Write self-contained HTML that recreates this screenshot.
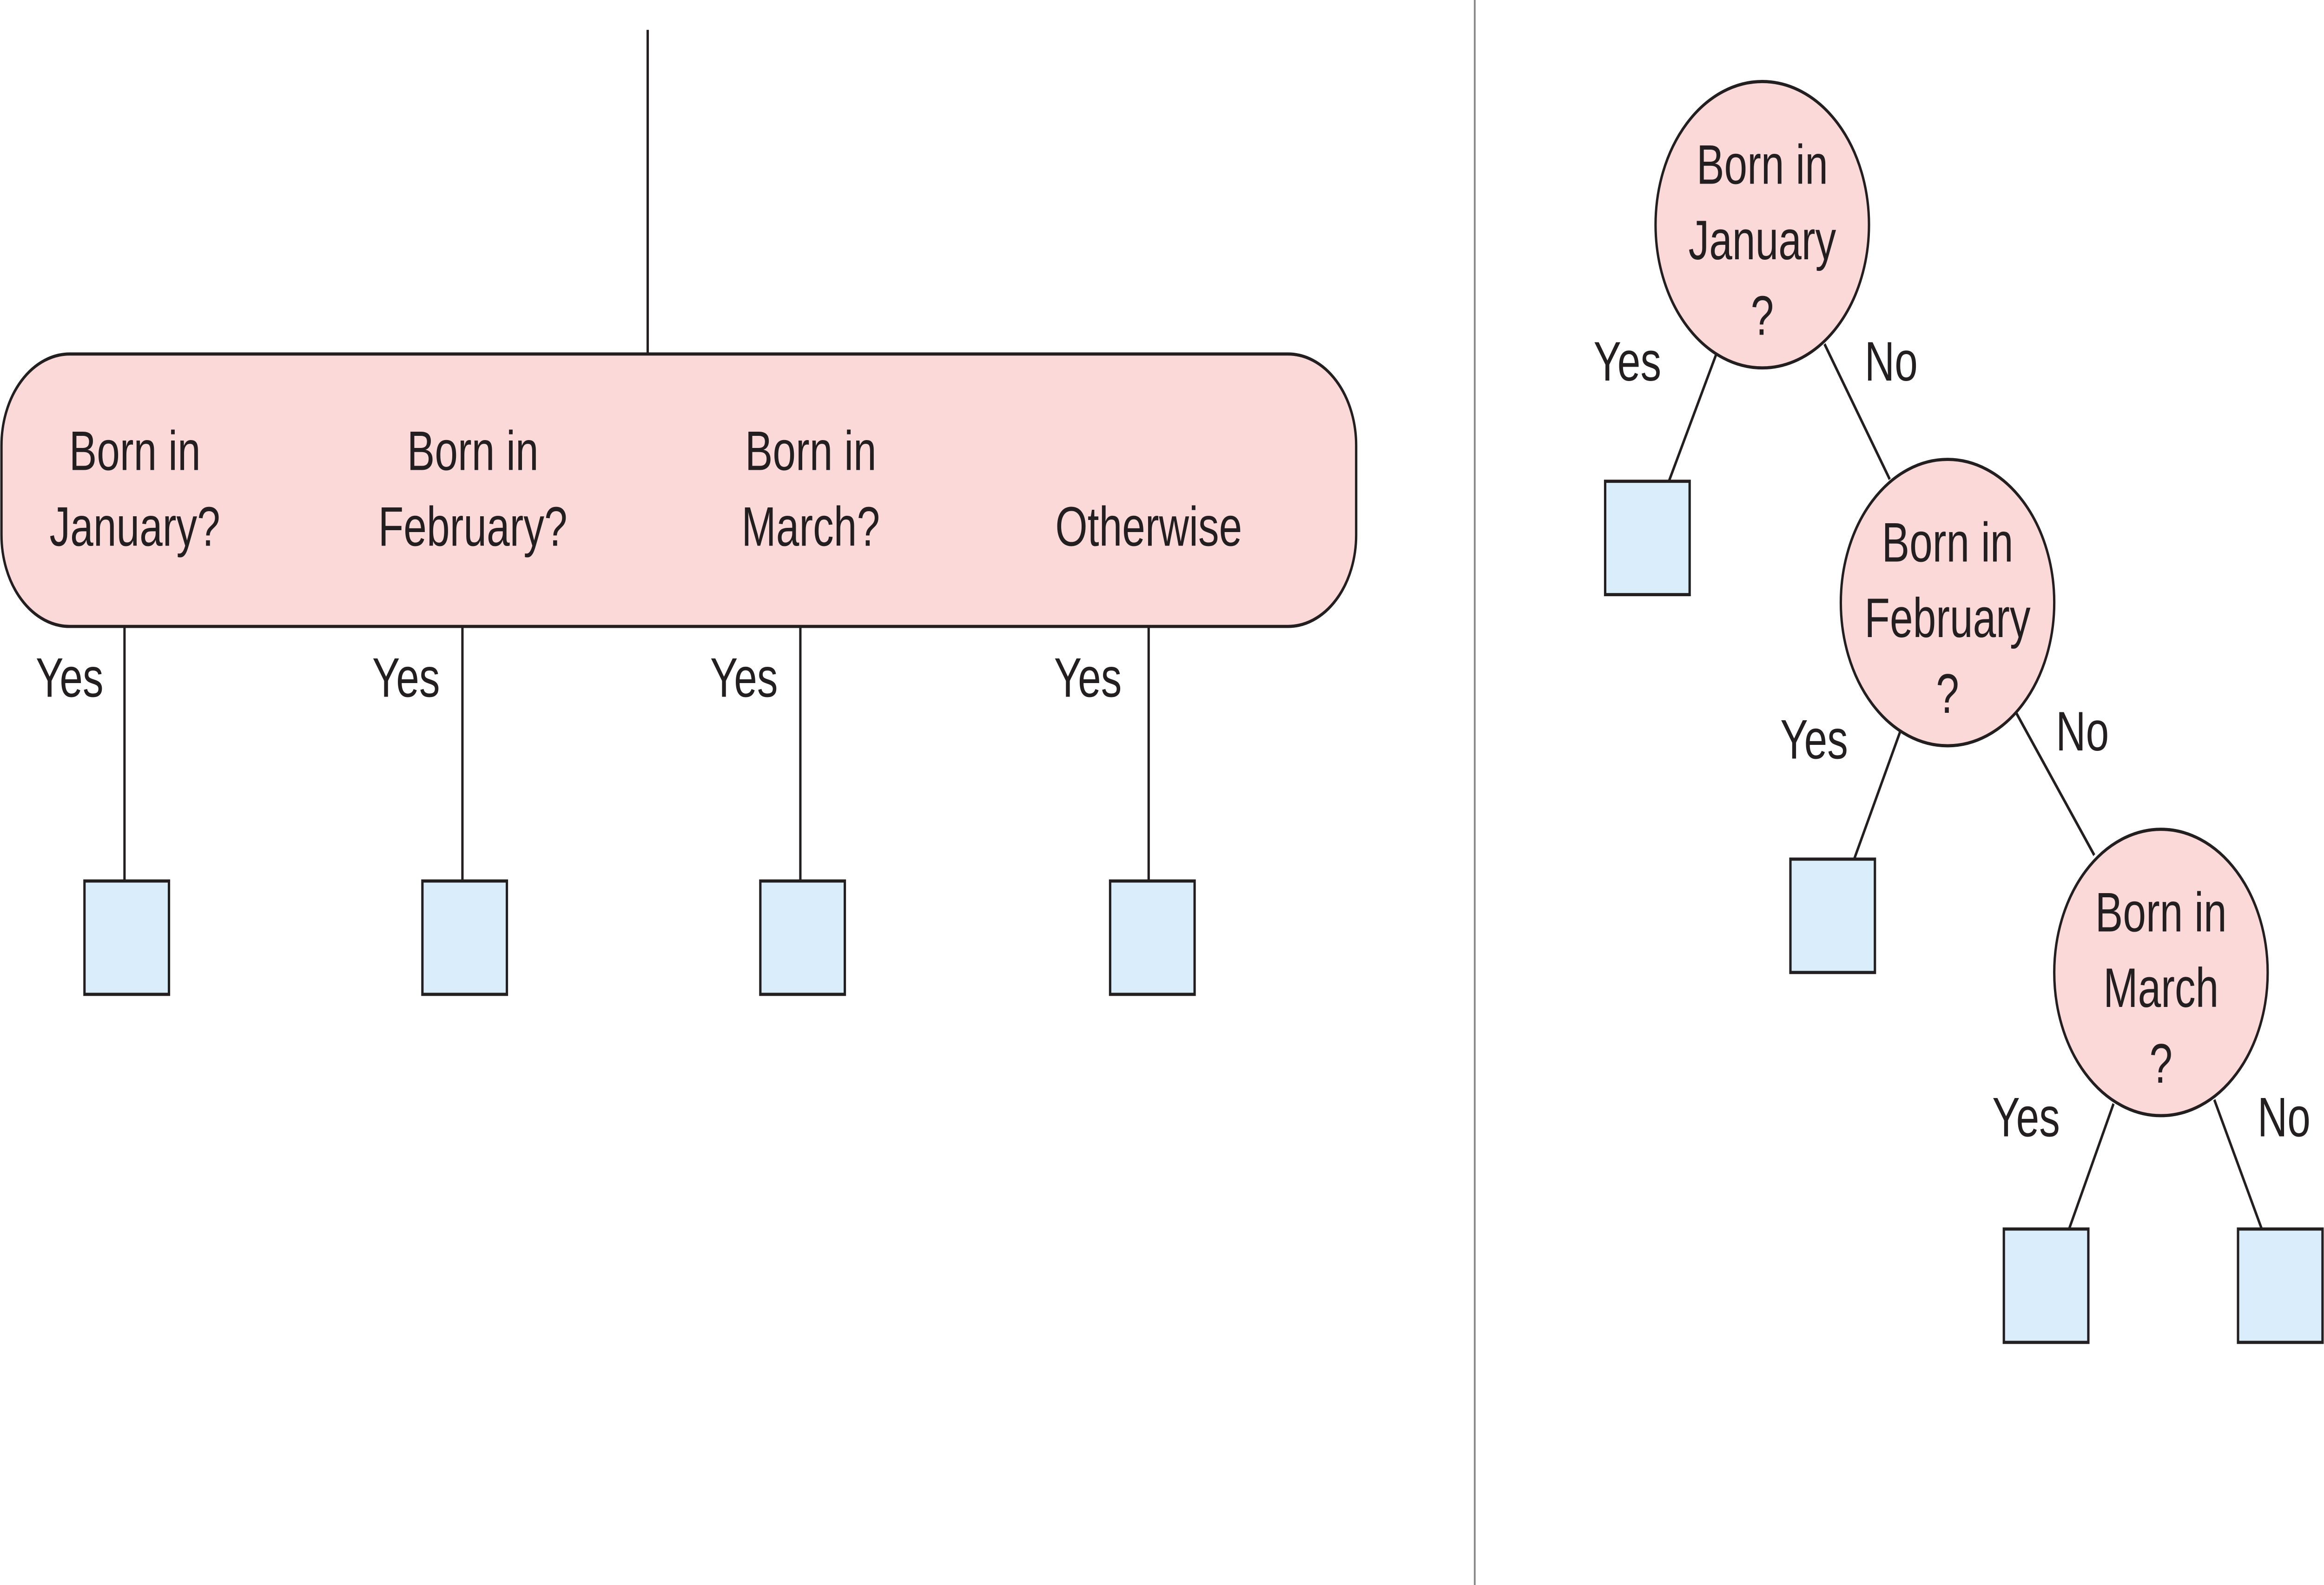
<!DOCTYPE html>
<html><head><meta charset="utf-8"><style>
html,body{margin:0;padding:0;background:#fff;width:100%;height:100%;overflow:hidden;}
svg{display:block;position:absolute;left:0;top:0;width:100vw;height:100vh;}
text{font-family:"Liberation Sans",sans-serif;font-size:28px;fill:#231f20;text-anchor:middle;dominant-baseline:middle;}
</style></head><body>
<svg viewBox="0 0 1568 797" preserveAspectRatio="none" xmlns="http://www.w3.org/2000/svg">
<rect width="1568" height="797" fill="#fff"/>
<g stroke="#231f20" stroke-width="1.6" fill="none">
<line x1="437" y1="15" x2="437" y2="178"/>
<rect x="1" y="178" width="914" height="137" rx="46" ry="46" fill="#fbd9d9"/>
<line x1="84" y1="315" x2="84" y2="443"/>
<line x1="312" y1="315" x2="312" y2="443"/>
<line x1="540" y1="315" x2="540" y2="443"/>
<line x1="775" y1="315" x2="775" y2="443"/>
<g fill="#d9eefa">
<rect x="57" y="443" width="57" height="57"/>
<rect x="285" y="443" width="57" height="57"/>
<rect x="513" y="443" width="57" height="57"/>
<rect x="749" y="443" width="57" height="57"/>
<rect x="1083" y="242" width="57" height="57"/>
<rect x="1208" y="432" width="57" height="57"/>
<rect x="1352" y="618" width="57" height="57"/>
<rect x="1510" y="618" width="57" height="57"/>
</g>
<line x1="1158" y1="178" x2="1126" y2="242"/>
<line x1="1231" y1="173" x2="1275" y2="241"/>
<line x1="1282" y1="368" x2="1251" y2="432"/>
<line x1="1360" y1="358" x2="1413" y2="430"/>
<line x1="1426" y1="555" x2="1396" y2="618"/>
<line x1="1494" y1="553" x2="1526" y2="618"/>
<g fill="#fbd9d9">
<circle cx="1189" cy="113" r="72"/>
<circle cx="1314" cy="303" r="72"/>
<circle cx="1458" cy="489" r="72"/>
</g>
</g>
<line x1="995" y1="0" x2="995" y2="797" stroke="#888" stroke-width="1.2"/>
<text x="91" y="229">Born in</text><text x="91" y="267">January?</text>
<text x="319" y="229">Born in</text><text x="319" y="267">February?</text>
<text x="547" y="229">Born in</text><text x="547" y="267">March?</text>
<text x="775" y="267">Otherwise</text>
<text x="47" y="343">Yes</text><text x="274" y="343">Yes</text><text x="502" y="343">Yes</text><text x="734" y="343">Yes</text>
<text x="1189" y="85">Born in</text><text x="1189" y="123">January</text><text x="1189" y="161">?</text>
<text x="1314" y="275">Born in</text><text x="1314" y="313">February</text><text x="1314" y="351">?</text>
<text x="1458" y="461">Born in</text><text x="1458" y="499">March</text><text x="1458" y="537">?</text>
<text x="1098" y="184">Yes</text><text x="1276" y="184">No</text>
<text x="1224" y="374">Yes</text><text x="1405" y="370">No</text>
<text x="1367" y="564">Yes</text><text x="1541" y="564">No</text>
</svg>
</body></html>
